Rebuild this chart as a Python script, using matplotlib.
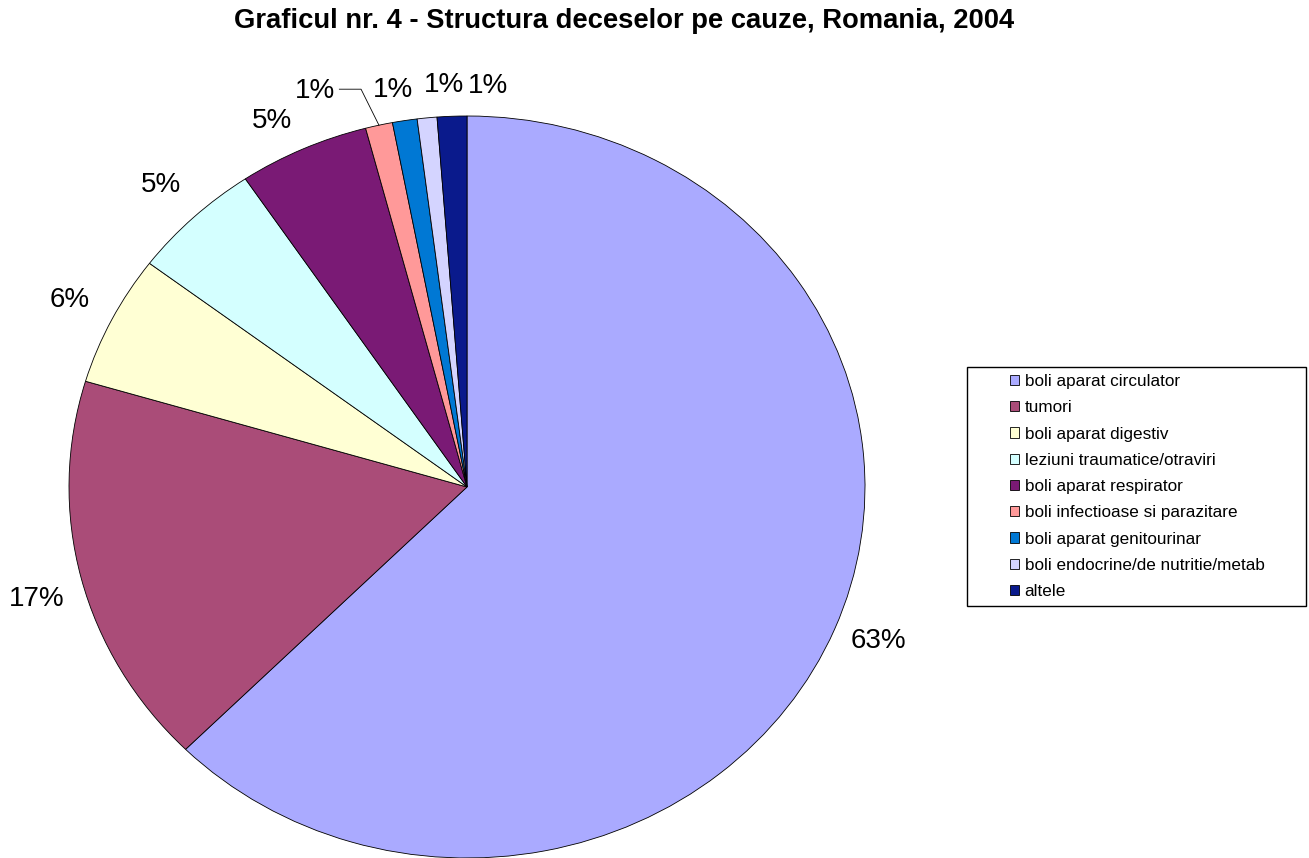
import numpy as np
import matplotlib.pyplot as plt
from matplotlib.patches import Patch, Rectangle

# structura deceselor pe cauze, Romania 2004 (procente)
cauze = ['boli aparat circulator', 'tumori', 'boli aparat digestiv',
         'leziuni traumatice/otraviri', 'boli aparat respirator',
         'boli infectioase si parazitare', 'boli aparat genitourinar',
         'boli endocrine/de nutritie/metab', 'altele']
procente = [62.5, 17.1, 5.7, 5.3, 5.3, 1.1, 1.0, 0.8, 1.2]
culori = ['#AAAAFF', '#AA4C78', '#FFFFD4', '#D4FFFF', '#7A1A75',
          '#FF9999', '#0078D4', '#D4D4FF', '#0A1A8C']
# rotunjire ca in Excel (jumatate in sus)
etichete = ['%d%%' % int(p + 0.5) for p in procente]

# deplasari ale etichetelor (in unitati de date)
nudge = [(0, 0.013), (0.005, -0.027), (0, 0), (0, 0), (-0.03, -0.035),
         (-0.135, -0.025), (-0.01, -0.035), (0.055, -0.032), (0.095, -0.037)]

plt.rcParams['font.family'] = ['Liberation Sans', 'DejaVu Sans']

fig = plt.figure(figsize=(13.09, 8.58), dpi=100)
W, H = 1309, 858
cx, cy, rx, ry = 467, 487, 398, 371
ax = fig.add_axes([(cx - rx) / W, (H - cy - ry) / H, 2 * rx / W, 2 * ry / H])

wedges, _ = ax.pie(procente, colors=culori, startangle=90, counterclock=False,
                   wedgeprops=dict(edgecolor='black', linewidth=0.6, clip_on=False))
ax.set_aspect('auto')
ax.set_xlim(-1, 1)
ax.set_ylim(-1, 1)
ax.axis('off')

for i, w in enumerate(wedges):
    mid = np.deg2rad((w.theta1 + w.theta2) / 2)
    tx = 1.12 * np.cos(mid) + nudge[i][0]
    ty = 1.12 * np.sin(mid) + nudge[i][1]
    ax.text(tx, ty, etichete[i], ha='center', va='center', fontsize=20)
    if i == 5:
        # linie de legatura pentru eticheta mutata
        ex, ey = np.cos(mid), np.sin(mid)
        ax.plot([tx + 0.062, ex - 0.045, ex], [ty + 0.005, ty + 0.005, ey],
                color='black', lw=0.6, clip_on=False)

fig.text(624 / W, 1 - 21 / H, 'Graficul nr. 4 - Structura deceselor pe cauze, Romania, 2004',
         ha='center', va='center', fontsize=19.7, fontweight='bold')

handles = [Patch(facecolor=c, edgecolor='black', linewidth=0.6) for c in culori]
fig.legend(handles, cauze, loc='upper left', bbox_to_anchor=(1010 / W, 1 - 374 / H),
           frameon=False, fontsize=12.3, handlelength=0.55, handleheight=0.55,
           handletextpad=0.3, labelspacing=0.66, borderpad=0, borderaxespad=0)
fig.patches.append(Rectangle((967 / W, 1 - 606 / H), 339 / W, 239 / H,
                             transform=fig.transFigure, fill=False,
                             edgecolor='black', linewidth=1))

plt.savefig('out.png', dpi=100)
